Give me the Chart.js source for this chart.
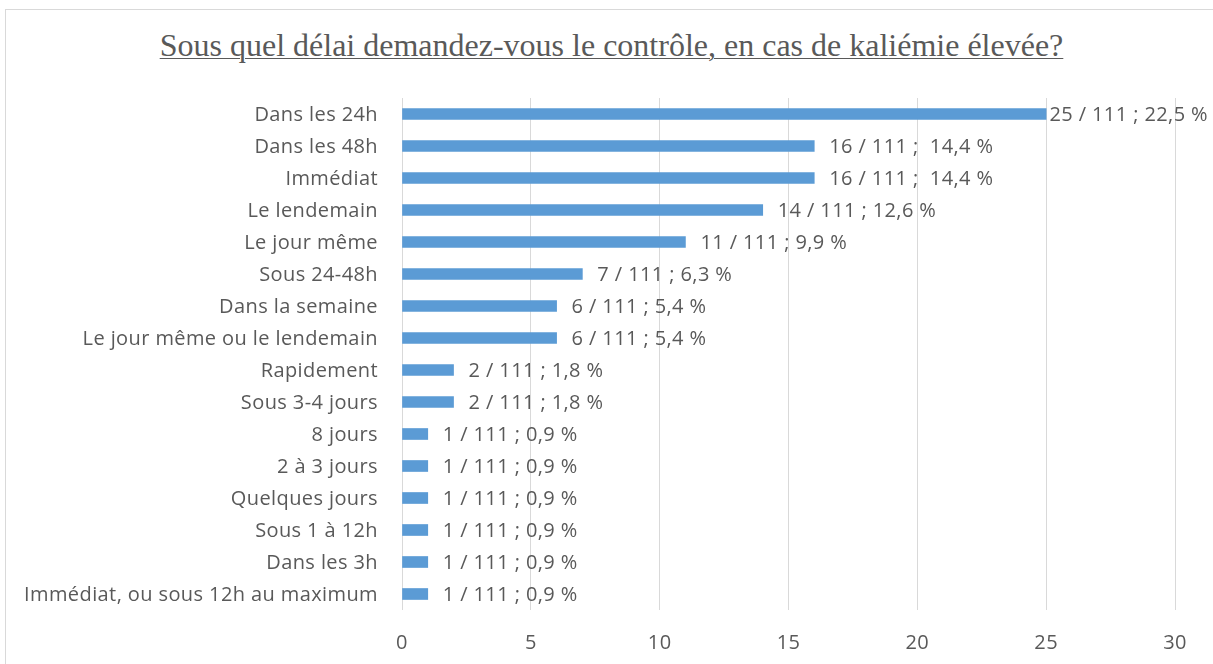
<!DOCTYPE html>
<html><head><meta charset="UTF-8"><title>Kaliémie</title>
<script src="https://cdn.jsdelivr.net/npm/chart.js"></script>
<style>
  html, body { margin: 0; padding: 0; background: #fff; }
  #wrap { position: relative; width: 1213px; height: 664px; overflow: hidden; }
  #frame { position: absolute; left: 5px; top: 9px; width: 1220px; height: 670px; border: 1px solid #d9d9d9; box-sizing: border-box; }
  #title { position: absolute; left: 0; width: 1223px; top: 29px; line-height: 32px; text-align: center; font-family: 'Liberation Serif', serif; font-size: 32px; color: #595959; }
  #title span { text-decoration: underline; text-underline-offset: 2px; text-decoration-thickness: 1px; }
  canvas { position: absolute; left: 0; top: 0; }
</style></head><body>
<div id="wrap">
  <div id="frame"></div>
  <div id="title"><span>Sous quel délai demandez-vous le contrôle, en cas de kaliémie élevée?</span></div>
  <canvas id="c" width="1213" height="664"></canvas>
</div>
<script>
const categories = ['Dans les 24h', 'Dans les 48h', 'Immédiat', 'Le lendemain', 'Le jour même', 'Sous 24-48h',
  'Dans la semaine', 'Le jour même ou le lendemain', 'Rapidement', 'Sous 3-4 jours', '8 jours', '2 à 3 jours',
  'Quelques jours', 'Sous 1 à 12h', 'Dans les 3h', 'Immédiat, ou sous 12h au maximum'];
const counts = [25, 16, 16, 14, 11, 7, 6, 6, 2, 2, 1, 1, 1, 1, 1, 1];
const labels = ['25 / 111 ; 22,5 %', '16 / 111 ;  14,4 %', '16 / 111 ;  14,4 %', '14 / 111 ; 12,6 %', '11 / 111 ; 9,9 %',
  '7 / 111 ; 6,3 %', '6 / 111 ; 5,4 %', '6 / 111 ; 5,4 %', '2 / 111 ; 1,8 %', '2 / 111 ; 1,8 %',
  '1 / 111 ; 0,9 %', '1 / 111 ; 0,9 %', '1 / 111 ; 0,9 %', '1 / 111 ; 0,9 %', '1 / 111 ; 0,9 %', '1 / 111 ; 0,9 %'];
const xTicks = [0, 5, 10, 15, 20, 25, 30];

const FONT = '"Open Sans", Lato, sans-serif';
const TXT = '#595959';
const SPACING = '0.4px';

// texte un peu plus large, comme dans Excel
const spacing = {
  id: 'spacing',
  beforeDraw(chart) { chart.ctx.letterSpacing = SPACING; }
};

// etiquettes de valeur a droite des barres
const valueLabels = {
  id: 'valueLabels',
  afterDatasetsDraw(chart) {
    const ctx = chart.ctx;
    const meta = chart.getDatasetMeta(0);
    ctx.save();
    ctx.letterSpacing = SPACING;
    ctx.font = '20px ' + FONT;
    ctx.fillStyle = TXT;
    ctx.textBaseline = 'middle';
    ctx.textAlign = 'left';
    meta.data.forEach((bar, i) => {
      const w = ctx.measureText(labels[i]).width;
      let x = bar.x + 15;
      if (x + w > chart.width - 5) x = chart.width - 5 - w;
      ctx.fillText(labels[i], x, bar.y + 1);
    });
    ctx.restore();
  }
};

new Chart(document.getElementById('c'), {
  type: 'bar',
  data: { labels: categories, datasets: [{ data: counts, backgroundColor: '#5b9bd5', barThickness: 11, borderWidth: 0 }] },
  options: {
    indexAxis: 'y', responsive: false, animation: false,
    layout: { padding: { top: 98, right: 38, left: 0, bottom: 0 } },
    plugins: { legend: { display: false }, tooltip: { enabled: false } },
    scales: {
      x: {
        min: 0, max: 30,
        afterBuildTicks: ax => { ax.ticks = xTicks.map(v => ({ value: v })); },
        afterFit: ax => { ax.height = 54; },
        grid: { color: '#d9d9d9', lineWidth: 1, drawTicks: false },
        border: { display: false },
        ticks: { padding: 21, color: TXT, font: { family: FONT, size: 20 } }
      },
      y: {
        afterFit: ax => { ax.width = 402; },
        grid: { display: false, drawTicks: false },
        border: { display: false },
        ticks: { padding: 24, labelOffset: 1, color: TXT, font: { family: FONT, size: 20 } }
      }
    }
  },
  plugins: [spacing, valueLabels]
});
</script>
</body></html>
